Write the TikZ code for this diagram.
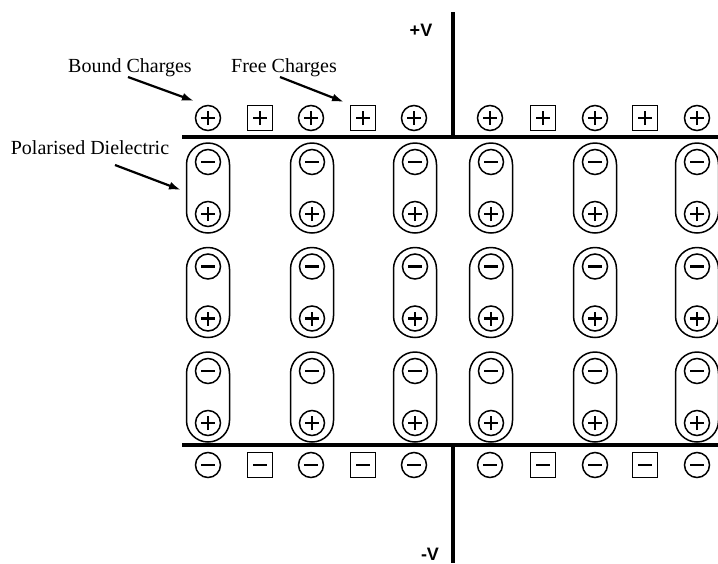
\documentclass[tikz,border=0pt]{standalone}
\usepackage{fontspec}
\setmainfont{Liberation Serif}
\setsansfont{Liberation Sans}
\usetikzlibrary{arrows.meta}
\begin{document}
\begin{tikzpicture}[x=1pt,y=-1pt,
  chg/.style={circle,draw,line width=1.5pt,minimum size=25pt,inner sep=0pt},
  fchg/.style={rectangle,draw,line width=1.4pt,minimum size=25pt,inner sep=0pt},
  plussign/.style={path picture={\draw[line width=2.2pt] ([xshift=-7pt]path picture bounding box.center) -- ([xshift=7pt]path picture bounding box.center) ([yshift=-7pt]path picture bounding box.center) -- ([yshift=7pt]path picture bounding box.center);}},
  minussign/.style={path picture={\draw[line width=2.4pt] ([xshift=-7pt]path picture bounding box.center) -- ([xshift=7pt]path picture bounding box.center);}},
  dip/.style={rectangle,draw,line width=1.5pt,minimum width=43pt,minimum height=90pt,rounded corners=21.5pt,inner sep=0pt},
  plate/.style={line width=4pt},
  lead/.style={line width=3.5pt},
  lbl/.style={font=\fontsize{20}{23}\selectfont,inner sep=0pt},
  vlbl/.style={font=\sffamily\bfseries\fontsize{18}{20}\selectfont,inner sep=0pt},
  arr/.style={line width=2.2pt,-{Latex[length=12pt,width=8pt]}}
]
\useasboundingbox (0,0) rectangle (718,563);

% plates and leads
\coordinate (tpL) at (182,137); \coordinate (tpR) at (718,137);
\coordinate (bpL) at (182,445); \coordinate (bpR) at (718,445);
\coordinate (ltT) at (453,12);  \coordinate (ltB) at (453,137);
\coordinate (lbT) at (453,445); \coordinate (lbB) at (453,563);
\draw[plate] (tpL) -- (tpR);
\draw[plate] (bpL) -- (bpR);
\draw[lead] (ltT) -- (ltB);
\draw[lead] (lbT) -- (lbB);

% dipoles
\foreach \x [count=\i] in {208,312,415,491,595,697} {
  \foreach \y [count=\j] in {188,292.5,397} {
    \node[dip] (d\i\j) at (\x,\y) {};
    \node[chg,minussign] (dm\i\j) at (\x,\y-26) {};
    \node[chg,plussign] (dp\i\j) at (\x,\y+26) {};
  }
}

% bound charges (circles)
\foreach \x [count=\i] in {208,311,414,490,595,697} {
  \node[chg,plussign] (tb\i) at (\x,118) {};
  \node[chg,minussign] (bb\i) at (\x,465) {};
}
% free charges (boxes)
\foreach \x [count=\i] in {260,363,543,645} {
  \node[fchg,plussign] (tf\i) at (\x,118) {};
  \node[fchg,minussign] (bf\i) at (\x,465) {};
}

% labels
\node[lbl] (lb) at (130,68) {Bound Charges};
\node[lbl] (lf) at (284,68) {Free Charges};
\node[lbl] (lp) at (90,148) {Polarised Dielectric};
\node[vlbl] (vp) at (421,30) {+V};
\node[vlbl] (vm) at (430,554) {-V};

% arrows
\coordinate (ab0) at (128,77); \coordinate (ab1) at (194,101);
\coordinate (af0) at (280,77); \coordinate (af1) at (344,102);
\coordinate (ap0) at (115,165); \coordinate (ap1) at (181,190);
\draw[arr] (ab0) -- (ab1);
\draw[arr] (af0) -- (af1);
\draw[arr] (ap0) -- (ap1);
\end{tikzpicture}
\end{document}
